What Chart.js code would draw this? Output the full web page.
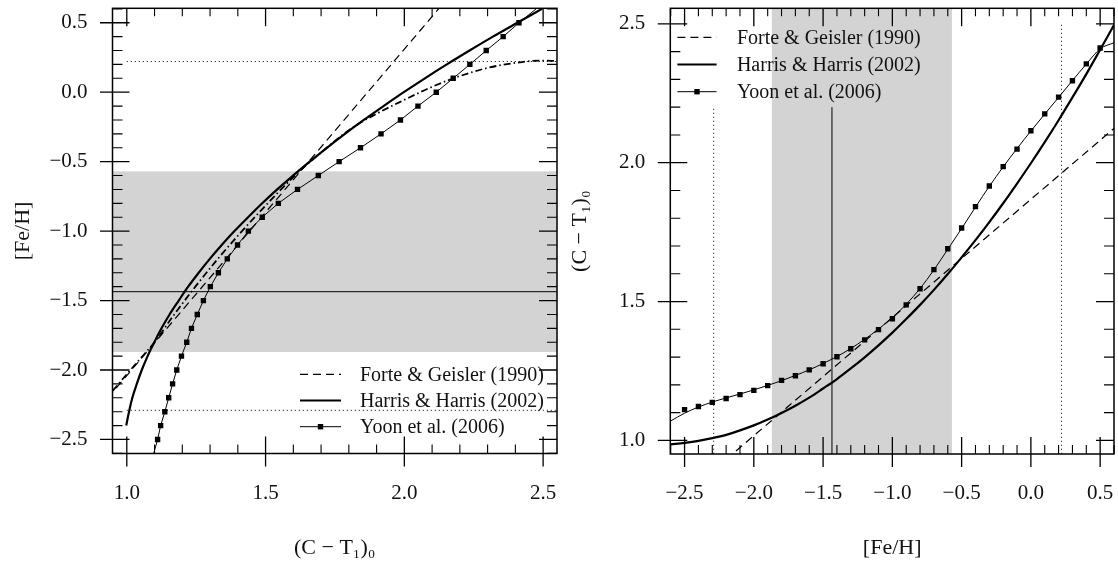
<!DOCTYPE html>
<html>
<head>
<meta charset="utf-8">
<script src="https://cdn.jsdelivr.net/npm/chart.js@4.4.1/dist/chart.umd.min.js"></script>
<style>
  html, body { margin: 0; padding: 0; background: #fff; }
  #wrap { position: relative; width: 1118px; height: 566px; overflow: hidden; }
  .panel { position: absolute; top: 0; }
  #p1 { left: 0; }
  #p2 { left: 560px; }
</style>
</head>
<body>
<div id="wrap">
  <div class="panel" id="p1"><canvas id="c1" width="560" height="566"></canvas></div>
  <div class="panel" id="p2"><canvas id="c2" width="558" height="566"></canvas></div>
</div>
<script>
// ---------------- data ----------------
// [Fe/H] grid on which the smooth relations are tabulated
const fehGrid = [-2.6, -2.5, -2.4, -2.3, -2.2, -2.1, -2.0, -1.9, -1.8, -1.7, -1.6,
                 -1.5, -1.4, -1.3, -1.2, -1.1, -1.0, -0.9, -0.8, -0.7, -0.6,
                 -0.5, -0.4, -0.3, -0.2, -0.1, 0.0, 0.1, 0.2, 0.3, 0.4, 0.5, 0.6];

// Harris & Harris (2002): (C-T1)0 at each grid [Fe/H]
const hhColor = [0.986, 0.991, 0.998, 1.008, 1.020, 1.036, 1.054, 1.075, 1.099, 1.125, 1.154,
                 1.187, 1.221, 1.259, 1.299, 1.342, 1.388, 1.437, 1.488, 1.542, 1.599,
                 1.659, 1.721, 1.786, 1.854, 1.925, 1.998, 2.074, 2.153, 2.235, 2.319, 2.407, 2.496];
// lower colour limit of the Harris & Harris branch drawn against colour
const hhMinColor = 0.995;

// smooth fit through the Yoon et al. (2006) models, on the same grid
const yoonFitColor = [1.070, 1.098, 1.120, 1.138, 1.153, 1.167, 1.182, 1.198, 1.215, 1.234, 1.254,
                      1.277, 1.302, 1.331, 1.364, 1.401, 1.442, 1.490, 1.547, 1.614, 1.688,
                      1.763, 1.840, 1.915, 1.985, 2.051, 2.114, 2.175, 2.235, 2.296, 2.355, 2.410, 2.432];

// Yoon et al. (2006) model points
const yoonFeH = [-2.5, -2.4, -2.3, -2.2, -2.1, -2.0, -1.9, -1.8, -1.7, -1.6,
                 -1.5, -1.4, -1.3, -1.2, -1.1, -1.0, -0.9, -0.8, -0.7, -0.6,
                 -0.5, -0.4, -0.3, -0.2, -0.1, 0.0, 0.1, 0.2, 0.3, 0.4, 0.5];
const yoonColor = [1.111, 1.122, 1.137, 1.151, 1.165, 1.180, 1.197, 1.216, 1.233, 1.254,
                   1.276, 1.301, 1.330, 1.362, 1.399, 1.438, 1.488, 1.546, 1.615, 1.690,
                   1.765, 1.842, 1.916, 1.986, 2.049, 2.115, 2.176, 2.236, 2.295, 2.356, 2.413];
// model ends beyond the marked points
const yoonTailFeH = [-2.6, 0.6];
const yoonTailColor = [1.097, 2.475];

// Forte & Geisler (1990) linear relation, end points
const fgFeH = [-2.7, 0.7];
const fgColor = [0.719, 2.166];

// adopted conversion (dash-dot), [Fe/H] against colour
const dashDotColor = [0.949, 1.00, 1.05, 1.10, 1.171, 1.247, 1.328, 1.415, 1.508, 1.606,
                      1.72, 1.81, 1.90, 2.00, 2.09, 2.177, 2.30, 2.416, 2.49, 2.55];
const dashDotFeH = [-2.15, -2.03, -1.915, -1.80, -1.60, -1.40, -1.20, -1.00, -0.80, -0.60,
                    -0.40, -0.26, -0.155, -0.055, 0.03, 0.10, 0.175, 0.215, 0.228, 0.224];

// metallicity band, mean and limits
const bandFeH = [-1.87, -0.57];
const meanFeH = -1.436;
const limitFeH = [-2.29, 0.221];
const limitStartColor = 1.0;     // dotted limits start at this colour
const markerTopColor = [2.2, 2.2, 2.5]; // tops of mean / lower limit / upper limit markers

// axis ranges and labelled ticks
const colorRange = [0.9485, 2.55];
const fehRangeL = [-2.601, 0.604];
const fehRangeR = [-2.603, 0.600];
const colorRangeR = [0.951, 2.556];
const colorTicks = [1.0, 1.5, 2.0, 2.5];
const fehTicks = [-2.5, -2.0, -1.5, -1.0, -0.5, 0.0, 0.5];

const legendLabels = ['Forte & Geisler (1990)', 'Harris & Harris (2002)', 'Yoon et al. (2006)'];

// ---------------- helpers ----------------
const FONT = '"Liberation Serif", "DejaVu Serif", serif';
const INK = '#000';
const TEXT = '#111';
const BAND_FILL = '#d3d3d3';
const pts = (xs, ys) => xs.map((x, i) => ({ x, y: ys[i] }));
const fmt = v => (v < 0 ? '\u2212' : '') + Math.abs(v).toFixed(1);

Chart.defaults.font.family = FONT;
Chart.defaults.color = TEXT;

// shaded band across the plot
const bandPlugin = {
  id: 'band',
  beforeDatasetsDraw(chart, args, o) {
    const { ctx, chartArea: a } = chart;
    const s = chart.scales[o.axis];
    const p0 = s.getPixelForValue(o.from), p1 = s.getPixelForValue(o.to);
    ctx.save();
    ctx.fillStyle = BAND_FILL;
    if (o.axis === 'y') ctx.fillRect(a.left, Math.min(p0, p1), a.width, Math.abs(p1 - p0));
    else ctx.fillRect(Math.min(p0, p1), a.top, Math.abs(p1 - p0), a.height);
    ctx.restore();
  }
};

// box frame with major and minor tick marks on all four sides
const framePlugin = {
  id: 'frame',
  afterDatasetsDraw(chart) {
    const { ctx, chartArea: a, scales: { x, y } } = chart;
    const minors = s => {
      const out = [];
      for (let k = Math.ceil(s.min * 10 - 1e-6); k <= Math.floor(s.max * 10 + 1e-6); k++) {
        if (k % 5 !== 0) out.push(k / 10);
      }
      return out;
    };
    ctx.save();
    ctx.strokeStyle = INK;
    ctx.lineWidth = 1.1;
    ctx.beginPath();
    for (const v of minors(x)) {
      const p = x.getPixelForValue(v);
      ctx.moveTo(p, a.bottom); ctx.lineTo(p, a.bottom - 9);
      ctx.moveTo(p, a.top); ctx.lineTo(p, a.top + 8);
    }
    for (const v of minors(y)) {
      const p = y.getPixelForValue(v);
      ctx.moveTo(a.left, p); ctx.lineTo(a.left + 10, p);
      ctx.moveTo(a.right, p); ctx.lineTo(a.right - 10, p);
    }
    ctx.stroke();
    ctx.lineWidth = 1.3;
    ctx.beginPath();
    for (const t of x.ticks) {
      const p = x.getPixelForValue(t.value);
      ctx.moveTo(p, a.bottom + 13); ctx.lineTo(p, a.bottom - 17);
      ctx.moveTo(p, a.top); ctx.lineTo(p, a.top + 18);
    }
    for (const t of y.ticks) {
      const p = y.getPixelForValue(t.value);
      ctx.moveTo(a.left - 12.5, p); ctx.lineTo(a.left + 17, p);
      ctx.moveTo(a.right, p); ctx.lineTo(a.right - 18, p);
    }
    ctx.stroke();
    ctx.lineWidth = 1.5;
    ctx.strokeRect(a.left, a.top, a.width, a.height);
    ctx.restore();
  }
};

// legend drawn inside the plotting box
const legendPlugin = {
  id: 'inlineLegend',
  afterDraw(chart, args, o) {
    const { ctx, chartArea: a } = chart;
    ctx.save();
    ctx.font = '20px ' + FONT;
    ctx.textBaseline = 'middle';
    ctx.textAlign = 'left';
    o.entries.forEach((e, i) => {
      const yy = a.top + o.top + i * o.gap;
      const x0 = a.left + o.left, x1 = x0 + o.sample;
      ctx.strokeStyle = INK;
      ctx.lineWidth = e.width;
      ctx.setLineDash(e.dash || []);
      ctx.beginPath(); ctx.moveTo(x0, yy); ctx.lineTo(x1, yy); ctx.stroke();
      ctx.setLineDash([]);
      if (e.marker) { ctx.fillStyle = INK; ctx.fillRect((x0 + x1) / 2 - 2.7, yy - 2.7, 5.4, 5.4); }
      ctx.fillStyle = TEXT;
      ctx.fillText(e.label, x1 + o.textGap, yy + 1);
    });
    ctx.restore();
  }
};

const legendEntries = [
  { label: legendLabels[0], width: 1.2, dash: [8, 5] },
  { label: legendLabels[1], width: 2.2 },
  { label: legendLabels[2], width: 1, marker: true }
];

function axis(range, ticks, pos, title, fitSize, labelPad, titlePad) {
  return {
    type: 'linear', position: pos, min: range[0], max: range[1],
    afterBuildTicks: s => { s.ticks = ticks.map(v => ({ value: v })); },
    ticks: { padding: labelPad, font: { size: 21 }, color: TEXT, callback: v => fmt(v), maxRotation: 0, autoSkip: false },
    grid: { display: false, drawTicks: false },
    border: { display: false },
    title: { display: true, text: title, font: { size: 22 }, color: TEXT, padding: titlePad },
    afterFit: s => {
      if (pos === 'bottom') s.height = fitSize; else s.width = fitSize;
      s.paddingTop = 0; s.paddingBottom = 0; s.paddingLeft = 0; s.paddingRight = 0;
    }
  };
}

const line = (data, extra) => Object.assign({
  data, showLine: true, pointRadius: 0, borderColor: INK, backgroundColor: INK,
  borderWidth: 1, tension: 0
}, extra);

const baseOptions = {
  responsive: false, animation: false, devicePixelRatio: 1,
  events: [],
  plugins: { legend: { display: false }, tooltip: { enabled: false } }
};

// ---------------- left panel: [Fe/H] against colour ----------------
const yoonLeft = [{ x: yoonTailColor[0], y: yoonTailFeH[0] },
                  ...pts(yoonColor, yoonFeH),
                  { x: yoonTailColor[1], y: yoonTailFeH[1] }];

new Chart(document.getElementById('c1'), {
  type: 'scatter',
  data: {
    datasets: [
      line(pts(hhColor, fehGrid).filter(p => p.x >= hhMinColor),
           { borderWidth: 2.2, cubicInterpolationMode: 'monotone' }),
      line(pts(fgColor, fgFeH), { borderWidth: 1.2, borderDash: [8, 5] }),
      line(yoonLeft, {
        pointRadius: yoonLeft.map((p, i) => (i === 0 || i === yoonLeft.length - 1) ? 0 : 3.8),
        pointStyle: 'rect', pointBorderWidth: 0
      }),
      line(pts(dashDotColor, dashDotFeH),
           { borderWidth: 1.8, borderDash: [7, 3, 1.5, 3], cubicInterpolationMode: 'monotone' }),
      line([{ x: colorRange[0] - 0.1, y: meanFeH }, { x: colorRange[1] + 0.1, y: meanFeH }], { borderWidth: 1 }),
      line([{ x: limitStartColor, y: limitFeH[0] }, { x: colorRange[1] + 0.1, y: limitFeH[0] }],
           { borderWidth: 1, borderDash: [1, 3] }),
      line([{ x: limitStartColor, y: limitFeH[1] }, { x: colorRange[1] + 0.1, y: limitFeH[1] }],
           { borderWidth: 1, borderDash: [1, 3] })
    ]
  },
  options: Object.assign({}, baseOptions, {
    layout: { padding: { top: 8.3, right: 3, left: 0, bottom: 0 } },
    scales: {
      x: axis(colorRange, colorTicks, 'bottom', '(C \u2212 T\u2081)\u2080', 112.5, 27, { top: 0, bottom: 5 }),
      y: axis(fehRangeL, fehTicks, 'left', '[Fe/H]', 112.5, 25, { top: 10, bottom: 0 })
    },
    plugins: Object.assign({}, baseOptions.plugins, {
      band: { axis: 'y', from: bandFeH[0], to: bandFeH[1] },
      inlineLegend: { entries: legendEntries, top: 366, gap: 26.2, left: 187.5, sample: 41, textGap: 19 }
    })
  }),
  plugins: [bandPlugin, framePlugin, legendPlugin]
});

// ---------------- right panel: colour against [Fe/H] ----------------
new Chart(document.getElementById('c2'), {
  type: 'scatter',
  data: {
    datasets: [
      line(pts(fehGrid, hhColor), { borderWidth: 2.2, cubicInterpolationMode: 'monotone' }),
      line(pts(fgFeH, fgColor), { borderWidth: 1.2, borderDash: [8, 5] }),
      line(pts(fehGrid, yoonFitColor), { borderWidth: 1, cubicInterpolationMode: 'monotone' }),
      { data: pts(yoonFeH, yoonColor), showLine: false, pointRadius: 3.8, pointStyle: 'rect',
        pointBorderWidth: 0, pointBackgroundColor: INK, borderColor: INK, backgroundColor: INK },
      line([{ x: meanFeH, y: colorRangeR[0] - 0.1 }, { x: meanFeH, y: markerTopColor[0] }], { borderWidth: 1 }),
      line([{ x: limitFeH[0], y: colorRangeR[0] - 0.1 }, { x: limitFeH[0], y: markerTopColor[1] }],
           { borderWidth: 1, borderDash: [1, 3] }),
      line([{ x: limitFeH[1], y: colorRangeR[0] - 0.1 }, { x: limitFeH[1], y: markerTopColor[2] }],
           { borderWidth: 1, borderDash: [1, 3] })
    ]
  },
  options: Object.assign({}, baseOptions, {
    layout: { padding: { top: 8.3, right: 2.8, left: 0, bottom: 0 } },
    scales: {
      x: axis(fehRangeR, fehTicks, 'bottom', '[Fe/H]', 112, 27, { top: 0, bottom: 5 }),
      y: axis(colorRangeR, colorTicks, 'left', '(C \u2212 T\u2081)\u2080', 110.3, 25, { top: 7, bottom: 0 })
    },
    plugins: Object.assign({}, baseOptions.plugins, {
      band: { axis: 'x', from: bandFeH[0], to: bandFeH[1] },
      inlineLegend: { entries: legendEntries, top: 29, gap: 27.2, left: 7.1, sample: 39.2, textGap: 20.3 }
    })
  }),
  plugins: [bandPlugin, framePlugin, legendPlugin]
});
</script>
</body>
</html>
